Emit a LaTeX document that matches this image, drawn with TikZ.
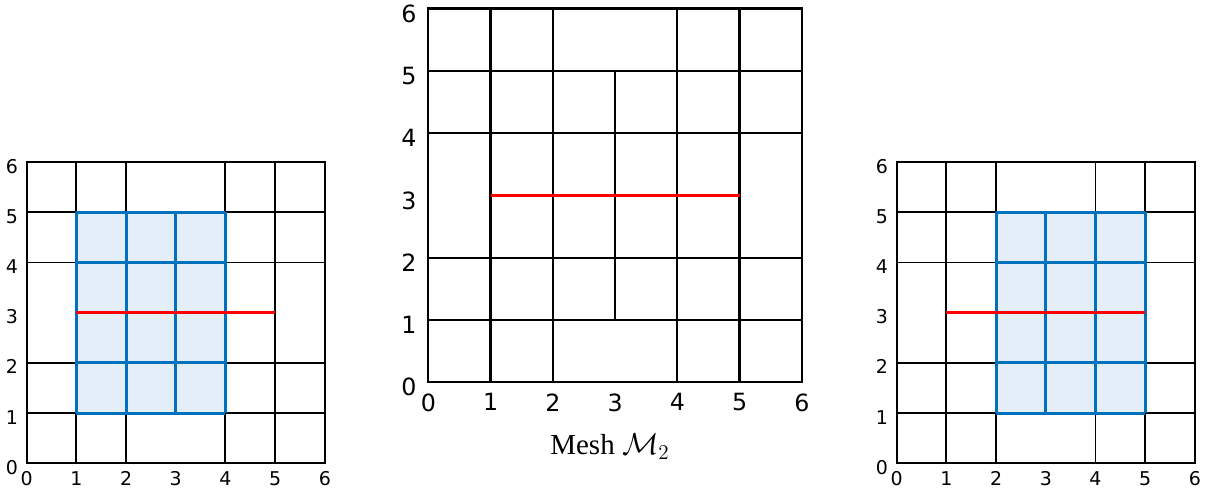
\documentclass[tikz,border=0pt]{standalone}
\usepackage{fontspec}
\setmainfont{Liberation Serif}
\newfontfamily\tickfont{DejaVu Sans}
\usetikzlibrary{positioning}
\definecolor{patchblue}{RGB}{0,114,189}
\definecolor{patchfill}{RGB}{228,238,248}

\begin{document}
\begin{tikzpicture}[
    meshline/.style={line width=1.1pt, black},
    patchline/.style={line width=1.7pt, patchblue},
    cutline/.style={line width=1.8pt, red},
    smalltick/.style={font=\tickfont\fontsize{10.8}{11}\selectfont, inner sep=0pt},
    bigtick/.style={font=\tickfont\fontsize{13.5}{14}\selectfont, inner sep=0pt}
]
\useasboundingbox (0,0) rectangle (24.2,9.88);

% left mesh, patch on the left of the cut
\begin{scope}[shift={(0.533,0.614)}, x=0.994cm, y=1.004cm]
\fill[patchfill] (1,1) rectangle (4,5);
\draw[meshline] (0,0) rectangle (6,6);
\foreach \k in {1,2,4,5} {
  \draw[meshline] (\k,0) -- (\k,6);
  \draw[meshline] (0,\k) -- (6,\k);
}
\draw[meshline] (3,1) -- (3,5);
\foreach \k in {1,...,4}
  \draw[patchline] (\k,1) -- (\k,5);
\foreach \k in {1,...,5}
  \draw[patchline] (1,\k) -- (4,\k);
\draw[cutline] (1,3) -- (5,3);
\foreach \k in {0,...,6} {
  \node[smalltick, anchor=north] (lx\k) at (\k,-0.16) {\k};
  \node[smalltick, anchor=east] (ly\k) at (-0.17,\k-0.08) {\k};
}
\end{scope}

% middle mesh M2
\begin{scope}[shift={(8.566,2.234)}, x=1.245cm, y=1.246cm]
\draw[meshline, line width=1.35pt] (0,0) rectangle (6,6);
\foreach \k in {1,2,4,5} {
  \draw[meshline, line width=1.35pt] (\k,0) -- (\k,6);
  \draw[meshline, line width=1.35pt] (0,\k) -- (6,\k);
}
\draw[meshline, line width=1.35pt] (3,1) -- (3,5);
\draw[cutline, line width=2pt] (1,3) -- (5,3);
\foreach \k in {0,...,6} {
  \node[bigtick, anchor=north] (mx\k) at (\k,-0.177) {\k};
  \node[bigtick, anchor=east] (my\k) at (-0.186,\k-0.08) {\k};
}
\end{scope}
\node[font=\fontsize{16.5}{18}\selectfont, anchor=base, inner sep=0pt] (cap) at (12.2,0.78) {Mesh $\mathcal{M}_2$};

% right mesh, patch on the right of the cut
\begin{scope}[shift={(17.934,0.614)}, x=0.994cm, y=1.004cm]
\fill[patchfill] (2,1) rectangle (5,5);
\draw[meshline] (0,0) rectangle (6,6);
\foreach \k in {1,2,4,5} {
  \draw[meshline] (\k,0) -- (\k,6);
  \draw[meshline] (0,\k) -- (6,\k);
}
\draw[meshline] (3,1) -- (3,5);
\foreach \k in {2,...,5}
  \draw[patchline] (\k,1) -- (\k,5);
\foreach \k in {1,...,5}
  \draw[patchline] (2,\k) -- (5,\k);
\draw[cutline] (1,3) -- (5,3);
\foreach \k in {0,...,6} {
  \node[smalltick, anchor=north] (rx\k) at (\k,-0.16) {\k};
  \node[smalltick, anchor=east] (ry\k) at (-0.17,\k-0.08) {\k};
}
\end{scope}
\end{tikzpicture}
\end{document}
